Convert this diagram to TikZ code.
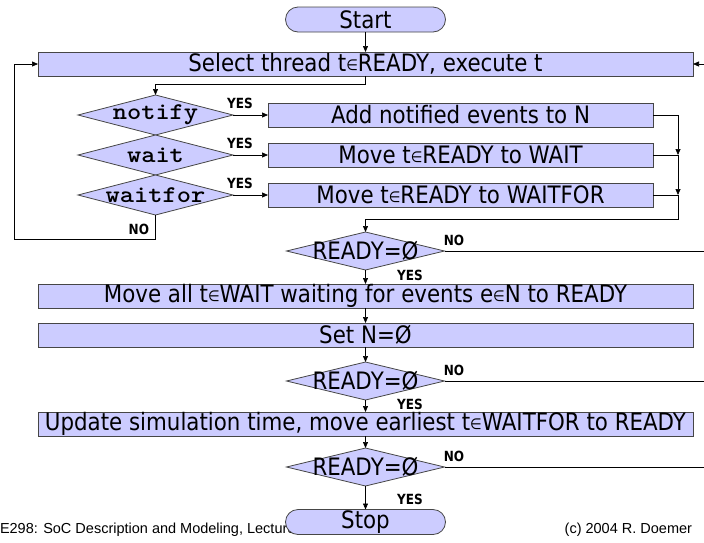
\documentclass[tikz,border=0pt]{standalone}
\usepackage{fontspec}
\usepackage{graphicx}
\setmainfont{DejaVu Sans}
\newfontfamily\footfont{Liberation Sans}
\usetikzlibrary{shapes.geometric,shapes.misc,arrows.meta}
\definecolor{boxfill}{RGB}{204,204,255}
\definecolor{boxedge}{RGB}{70,70,70}
% narrow main lettering, small element-of sign
\newcommand{\nar}[1]{\scalebox{0.89}[1]{#1}}
\newcommand{\narb}[1]{\scalebox{0.86}[1]{#1}}
\newcommand{\elemof}{{\fontsize{15}{15}\selectfont\raisebox{1pt}{∈}}}
\newcommand{\kwtxt}[1]{\scalebox{1.13}[1]{#1}}

\begin{document}
\begin{tikzpicture}[x=1pt,y=-1pt,
  every node/.style={inner sep=0pt,outer sep=0pt},
  conn/.style={draw=black,line width=0.7pt},
  arr/.style={conn,-{Triangle[length=6pt,width=5pt]}},
  mainfont/.style={font=\fontsize{24}{24}\selectfont},
  procbox/.style={rectangle,draw=boxedge,fill=boxfill,line width=0.8pt,
    minimum width=655pt,minimum height=24pt,mainfont},
  sidebox/.style={procbox,minimum width=385pt},
  termbox/.style={rounded rectangle,draw=boxedge,fill=boxfill,line width=0.8pt,
    minimum width=160pt,minimum height=25pt,mainfont},
  decision/.style={diamond,draw=boxedge,fill=boxfill,line width=0.8pt,
    minimum width=158pt,minimum height=38pt},
  kwdecision/.style={decision,minimum width=155pt,minimum height=40pt},
  kw/.style={font=\ttfamily\bfseries\fontsize{24}{24}\selectfont},
  yn/.style={font=\bfseries\fontsize{14}{14}\selectfont},
  foot/.style={font=\footfont\fontsize{14.5}{14.5}\selectfont}
]
\useasboundingbox (0,0) rectangle (704,542);

% main column
\node[termbox] (start) at (365.5,19.5) {\nar{Start}};
\node[procbox] (sel) at (365.5,64) {\nar{Select thread t\elemof READY, execute t}};

% statement type decisions
\node[kwdecision] (dn) at (155.5,115) {};
\node[kw] at (dn) {\kwtxt{notify}};
\node[kwdecision] (dw) at (155.5,155) {};
\node[kw] at (dw) {\kwtxt{wait}};
\node[kwdecision] (dwf) at (155.5,195) {};
\node[kw] at (dwf) {\kwtxt{waitfor}};

\node[sidebox] (bn) at (460.5,115) {\nar{Add notified events to N}};
\node[sidebox] (bw) at (460.5,155) {\nar{Move t\elemof READY to WAIT}};
\node[sidebox] (bwf) at (460.5,195) {\nar{Move t\elemof READY to WAITFOR}};

\node[decision] (r1) at (365.5,251) {};
\node[mainfont] at (r1) {\nar{READY=Ø}};
\node[procbox] (mv) at (365.5,296) {\nar{Move all t\elemof WAIT waiting for events e\elemof N to READY}};
\node[procbox] (setn) at (365.5,335) {\nar{Set N=Ø}};
\node[decision] (r2) at (365.5,381) {};
\node[mainfont] at (r2) {\nar{READY=Ø}};
\node[procbox] (upd) at (365.5,424) {\nar{Update simulation time, move earliest t\elemof WAITFOR to READY}};
\node[decision] (r3) at (365.5,467) {};
\node[mainfont] at (r3) {\nar{READY=Ø}};

% footer, partly hidden by the Stop terminal
\node[foot,anchor=base west] (fl) at (0,533) {E298: SoC Description and Modeling, Lecture};
\node[foot,anchor=base east] (fr) at (692,533) {(c) 2004 R. Doemer};
\node[termbox] (stop) at (365.5,522) {\nar{Stop}};

% junction points
\coordinate (j0) at (155.5,84);
\coordinate (mt) at (678,115);
\coordinate (mw) at (678,155);
\coordinate (mwf) at (678,195);
\coordinate (mb) at (678,219);
\coordinate (jb) at (365.5,219);
\coordinate (lb) at (155.5,239);
\coordinate (ll) at (14,239);
\coordinate (selin) at (704,64);
\coordinate (e1) at (704,251);
\coordinate (e2) at (704,381);
\coordinate (e3) at (704,467);

% connectors
\draw[arr] (start) -- (sel);
\draw[arr] (sel.south) |- (j0) -- (dn.north);
\draw[arr] (dn.east) -- (bn.west);
\draw[arr] (dw.east) -- (bw.west);
\draw[arr] (dwf.east) -- (bwf.west);
\node[yn] at (240,103) {\narb{YES}};
\node[yn] at (240,143) {\narb{YES}};
\node[yn] at (240,183) {\narb{YES}};

\draw[conn] (bn.east) -- (mt);
\draw[arr] (mt) -- (mw);
\draw[conn] (bw.east) -- (mw);
\draw[arr] (mw) -- (mwf);
\draw[conn] (bwf.east) -- (mwf);
\draw[arr] (mwf) -- (mb) -- (jb) -- (r1.north);

\draw[arr] (dwf.south) -- (lb) -- (ll) |- (sel.west);
\node[yn,anchor=east] at (149,229) {\narb{NO}};
\draw[arr] (selin) -- (sel.east);

\draw[conn] (r1.east) -- (e1);
\node[yn] at (454,240) {\narb{NO}};
\draw[arr] (r1.south) -- (mv.north);
\node[yn] at (410,275.5) {\narb{YES}};
\draw[arr] (mv) -- (setn);
\draw[arr] (setn) -- (r2.north);

\draw[conn] (r2.east) -- (e2);
\node[yn] at (454,370) {\narb{NO}};
\draw[arr] (r2.south) -- (upd.north);
\node[yn] at (410,404) {\narb{YES}};
\draw[arr] (upd) -- (r3.north);

\draw[conn] (r3.east) -- (e3);
\node[yn] at (454,456) {\narb{NO}};
\draw[arr] (r3.south) -- (stop.north);
\node[yn] at (410,499) {\narb{YES}};
\end{tikzpicture}
\end{document}
